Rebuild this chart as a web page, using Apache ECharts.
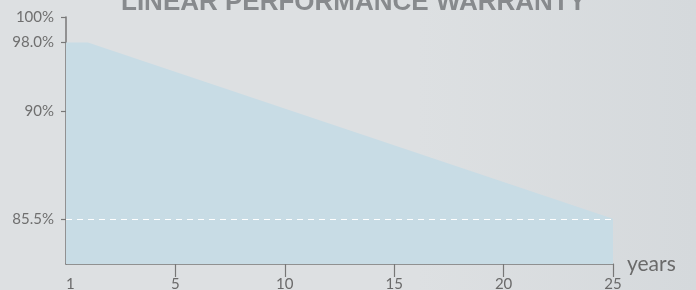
<!DOCTYPE html>
<html>
<head>
<meta charset="utf-8">
<script src="https://cdn.jsdelivr.net/npm/echarts@6/dist/echarts.min.js"></script>
<style>
html,body{margin:0;padding:0;}
#c{width:696px;height:290px;}
</style>
</head>
<body>
<div id="c"></div>
<script>
// Data
var years = [0, 1, 25];
var warranty = [98, 98, 85.5];
var guaranteeLevel = 85.5;
// Tick positions/labels as laid out in the reference
var xTickValues = [0, 5, 10, 15, 20, 25];
var xTickLabels = ['1', '5', '10', '15', '20', '25'];
var yTickValues = [99.8, 98, 93.1, 85.5];
var yTickLabels = ['100%', '98.0%', '90%', '85.5%'];
var yMin = 82.3, yMax = 99.8;

var chart = echarts.init(document.getElementById('c'), null, {renderer: 'canvas'});
var points = years.map(function (y, i) { return [y, warranty[i]]; });

chart.setOption({
  animation: false,
  backgroundColor: {
    type: 'linear', x: 0, y: 0, x2: 1, y2: 0,
    colorStops: [
      {offset: 0, color: '#dde0e2'},
      {offset: 0.6, color: '#dde0e2'},
      {offset: 1, color: '#d5d9dc'}
    ]
  },
  title: {
    text: 'LINEAR PERFORMANCE WARRANTY',
    left: 116,
    top: -15,
    textStyle: {
      fontFamily: 'Liberation Sans',
      fontWeight: 'bold',
      fontSize: 26,
      color: '#878a8d'
    }
  },
  grid: {left: 66, right: 83, top: 17, bottom: 26, outerBoundsMode: 'none', containLabel: false},
  xAxis: {
    type: 'value',
    min: 0, max: 25,
    name: 'years',
    nameLocation: 'end',
    nameGap: 14,
    nameTextStyle: {fontFamily: 'Lato', fontSize: 21, color: '#6a6a6a', padding: [0, 0, 4, 0]},
    axisLine: {show: true, lineStyle: {color: '#777', width: 1.5}},
    axisTick: {show: true, length: 13, customValues: [5, 10, 15, 20, 25], lineStyle: {color: '#777', width: 1.2}},
    axisLabel: {
      margin: 13,
      alignMinLabel: 'left',
      fontFamily: 'Lato', fontSize: 15, color: '#6a6a6a',
      customValues: xTickValues,
      formatter: function (v) { return xTickLabels[xTickValues.indexOf(v)]; }
    },
    splitLine: {show: false}
  },
  yAxis: {
    type: 'value',
    min: yMin, max: yMax,
    axisLine: {show: true, lineStyle: {color: '#777', width: 1.5}},
    axisTick: {show: true, length: 5, customValues: yTickValues, lineStyle: {color: '#777', width: 1.2}},
    axisLabel: {
      margin: 12,
      fontFamily: 'Lato', fontSize: 15, color: '#6f6f6f',
      customValues: yTickValues,
      formatter: function (v) { return yTickLabels[yTickValues.indexOf(v)]; }
    },
    splitLine: {show: false}
  },
  series: [{
    type: 'line',
    data: points,
    symbol: 'none',
    lineStyle: {width: 0},
    areaStyle: {color: '#c8dce5', opacity: 1},
    markLine: {
      silent: true,
      symbol: ['none', 'none'],
      label: {show: false},
      lineStyle: {color: '#ffffff', type: [6, 5], width: 1},
      data: [{yAxis: guaranteeLevel}]
    }
  }]
});
</script>
</body>
</html>
